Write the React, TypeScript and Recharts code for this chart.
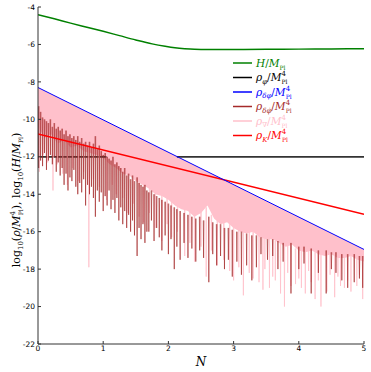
import { ComposedChart, Line, Area, XAxis, YAxis } from "recharts";

// ticks
const xTicks = [0, 1, 2, 3, 4, 5];
const yTicks = [-22, -20, -18, -16, -14, -12, -10, -8, -6, -4];

// H / M_Pl  (green)
const hubble: [number, number][] = [
  [0, -4.41], [0.25, -4.63], [0.5, -4.86], [0.75, -5.08], [1.0, -5.3], [1.25, -5.53],
  [1.5, -5.76], [1.75, -5.97], [1.95, -6.1], [2.1, -6.18], [2.25, -6.23], [2.4, -6.26],
  [2.6, -6.27], [3.0, -6.27], [3.5, -6.26], [4.0, -6.25], [4.5, -6.24], [5.0, -6.23],
];

// rho_phi (black) - only the parts not hidden under the pink band
const rhoPhi: [number, number | null][] = [[0, -12], [1.05, -12], [1.06, null], [2.12, null], [2.13, -12], [5, -12]];
// rho_dphi (blue), rho_K (red)
const rhoDeltaPhi: [number, number][] = [[0, -8.3], [5, -16.95]];
const rhoKin: [number, number][] = [[0, -10.78], [5, -15.07]];

// rho_grad: dense pink band (upper / lower edge)
const gradN = [
  0, 0.1, 0.2, 0.3, 0.4, 0.5, 0.6, 0.7, 0.8, 0.9, 1.0, 1.1, 1.2, 1.3, 1.4, 1.5, 1.6,
  1.7, 1.8, 1.9, 2.0, 2.1, 2.2, 2.3, 2.4, 2.5, 2.6, 2.7, 2.8, 2.9, 3.0, 3.1, 3.2, 3.3,
  3.4, 3.5, 3.6, 3.7, 3.8, 3.9, 4.0, 4.1, 4.2, 4.3, 4.4, 4.5, 4.6, 4.7, 4.8, 4.9, 5.0,
];
const gradHi = [
  -8.3, -8.47, -8.65, -8.82, -8.99, -9.17, -9.34, -9.51, -9.68, -9.86, -10.03, -10.2,
  -10.38, -10.55, -10.72, -10.9, -11.07, -11.24, -11.41, -11.59, -11.76, -11.93, -12.11,
  -12.28, -12.45, -12.63, -12.8, -12.97, -13.14, -13.32, -13.49, -13.66, -13.84, -14.01,
  -14.18, -14.36, -14.53, -14.7, -14.87, -15.05, -15.22, -15.39, -15.57, -15.74, -15.91,
  -16.09, -16.26, -16.43, -16.6, -16.78, -16.95,
];
const gradLo = [
  -10.4, -11.0, -10.8, -11.3, -11.1, -11.5, -11.4, -11.7, -11.8, -11.9, -12.05, -12.4,
  -12.6, -12.9, -13.0, -13.3, -13.5, -13.7, -14.0, -14.1, -14.3, -14.6, -14.8, -14.9,
  -15.2, -15.0, -14.6, -15.3, -15.6, -15.5, -15.8, -16.0, -16.1, -16.0, -16.3, -16.4,
  -16.4, -16.6, -16.8, -16.7, -17.0, -17.1, -17.0, -17.2, -17.3, -17.2, -17.4, -17.4,
  -17.3, -17.5, -17.6,
];

// rho_grad: pale spikes below the band  [N, top, bottom]
const gradSpikes: [number, number, number][] = [
  [0.02, -10.3, -12.8], [0.08, -10.6, -11.9], [0.15, -10.7, -12.3], [0.23, -10.8, -13.8],
  [0.3, -11.0, -12.4], [0.38, -11.0, -12.9], [0.45, -11.1, -13.5], [0.53, -11.3, -12.6],
  [0.62, -11.3, -13.3], [0.7, -11.5, -12.8], [0.78, -11.6, -17.9], [0.85, -11.7, -13.2],
  [0.94, -11.8, -13.6], [1.05, -12.1, -14.3], [1.14, -12.3, -13.5], [1.2, -12.4, -14.0],
  [1.3, -12.7, -14.2], [1.38, -12.9, -15.0], [1.46, -13.1, -14.5], [1.55, -13.3, -15.2],
  [1.62, -13.4, -15.5], [1.71, -13.6, -15.0], [1.8, -13.9, -15.8], [1.9, -14.0, -16.5],
  [1.98, -14.2, -15.6], [2.05, -14.4, -16.3], [2.14, -14.6, -16.0], [2.25, -14.8, -17.3],
  [2.33, -14.8, -16.6], [2.4, -15.0, -17.6], [2.5, -14.9, -16.8], [2.58, -14.7, -18.4],
  [2.66, -15.1, -17.0], [2.75, -15.4, -17.8], [2.85, -15.4, -17.5], [2.94, -15.6, -18.1],
  [3.0, -15.7, -18.6], [3.08, -15.9, -17.9], [3.15, -16.0, -19.4], [3.24, -16.0, -18.2],
  [3.3, -16.0, -18.5], [3.39, -16.2, -18.7], [3.45, -16.3, -19.1], [3.48, -16.3, -18.0],
  [3.55, -16.3, -19.0], [3.6, -16.4, -18.4], [3.64, -16.5, -18.6], [3.72, -16.6, -19.3],
  [3.78, -16.7, -20.0], [3.83, -16.7, -18.2], [3.88, -16.7, -18.9], [3.95, -16.9, -18.8],
  [4.0, -16.9, -18.5], [4.04, -17.0, -19.0], [4.1, -17.0, -19.3], [4.15, -17.0, -18.1],
  [4.19, -17.0, -18.7], [4.25, -17.1, -19.6], [4.3, -17.1, -18.6], [4.34, -17.2, -20.0],
  [4.43, -17.2, -19.2], [4.48, -17.2, -18.3], [4.55, -17.2, -19.5], [4.6, -17.3, -18.4],
  [4.64, -17.3, -18.9], [4.7, -17.3, -19.0], [4.75, -17.3, -18.6], [4.8, -17.3, -19.2],
  [4.89, -17.4, -18.9], [4.93, -17.4, -18.3], [4.98, -17.5, -19.6],
];

// rho_dphidot (brown spikes)  [N, top, bottom]
const dotSpikes: [number, number, number][] = [
  [0.01, -9.3, -12.6], [0.04, -9.6, -12.2], [0.07, -9.9, -12.5], [0.1, -10.0, -11.8],
  [0.13, -10.1, -12.7], [0.16, -10.2, -12.2], [0.19, -10.0, -11.9], [0.22, -10.4, -12.4],
  [0.25, -10.2, -12.0], [0.28, -10.5, -12.8], [0.31, -10.4, -12.3], [0.34, -10.6, -13.0],
  [0.37, -10.5, -12.6], [0.4, -10.8, -13.5], [0.43, -10.6, -12.9], [0.46, -10.9, -13.8],
  [0.49, -10.8, -13.1], [0.52, -11.0, -13.3], [0.55, -10.9, -12.7], [0.58, -11.1, -13.6],
  [0.61, -10.9, -14.0], [0.64, -11.2, -13.4], [0.67, -11.0, -13.9], [0.7, -11.3, -13.2],
  [0.73, -11.2, -14.6], [0.76, -11.4, -13.5], [0.79, -11.2, -14.0], [0.82, -11.5, -13.6],
  [0.85, -11.3, -14.2], [0.88, -10.9, -15.2], [0.91, -11.6, -13.8], [0.94, -11.4, -14.4],
  [0.97, -11.7, -13.9], [1.0, -11.9, -14.9], [1.03, -11.8, -14.1], [1.06, -12.0, -14.6],
  [1.09, -12.1, -13.8], [1.12, -12.2, -14.8], [1.15, -12.0, -14.3], [1.18, -12.4, -15.0],
  [1.21, -12.3, -14.2], [1.24, -12.5, -15.4], [1.27, -12.6, -14.7], [1.3, -12.8, -15.6],
  [1.33, -12.6, -14.9], [1.36, -13.0, -15.8], [1.39, -12.9, -15.1], [1.42, -13.2, -16.0],
  [1.45, -13.0, -15.4], [1.48, -13.3, -16.2], [1.52, -13.1, -17.3], [1.55, -13.4, -15.8],
  [1.58, -13.5, -16.4], [1.61, -13.6, -15.6], [1.64, -13.5, -16.6], [1.67, -13.8, -16.0],
  [1.7, -13.9, -16.0], [1.74, -13.8, -15.4], [1.78, -14.0, -16.5], [1.82, -14.1, -15.8],
  [1.86, -14.2, -16.3], [1.9, -14.3, -17.0], [1.95, -14.4, -16.2], [2.0, -14.5, -17.2],
  [2.04, -14.6, -16.4], [2.09, -14.7, -18.0], [2.13, -14.8, -16.8], [2.18, -14.9, -17.5],
  [2.24, -15.0, -16.6], [2.3, -15.1, -17.4], [2.36, -15.2, -16.9], [2.42, -15.3, -17.6],
  [2.48, -15.2, -17.0], [2.54, -15.4, -17.4], [2.62, -15.2, -18.7], [2.68, -15.5, -17.2],
  [2.74, -15.6, -17.8], [2.8, -15.6, -17.3], [2.86, -15.8, -18.0], [2.92, -15.8, -17.5],
  [2.98, -15.9, -18.4], [3.05, -16.0, -17.6], [3.12, -16.0, -18.3], [3.2, -16.1, -17.8],
  [3.28, -16.2, -18.6], [3.35, -16.2, -17.9], [3.42, -16.3, -17.2], [3.52, -16.4, -17.5],
  [3.6, -16.4, -17.3], [3.68, -16.5, -18.0], [3.76, -16.6, -17.6], [3.88, -16.6, -19.3],
  [4.0, -16.8, -18.0], [4.08, -16.8, -17.7], [4.19, -16.9, -19.3], [4.3, -17.0, -18.2],
  [4.42, -17.0, -19.3], [4.5, -17.1, -18.0], [4.57, -17.1, -18.2], [4.66, -17.2, -18.6],
  [4.75, -17.2, -19.0], [4.85, -17.2, -18.7], [4.93, -17.3, -18.5], [4.98, -17.3, -19.0],
];

// legend
const legendSubs = ["", "φ", "δφ", "δφ̇", "∇", "K"];
const legendColors = ["#008000", "#000000", "#0000ff", "#a52a2a", "#ffc0cb", "#ff0000"];

const toPts = (arr: [number, number | null][]) => arr.map(([n, v]) => ({ n, v }));
// each spike is a thin "V", broken from the next one by a null
const spikePts = (arr: [number, number, number][], w: number) =>
  arr.flatMap(([n, top, bot]) => [
    { n: n - w, v: top },
    { n, v: bot },
    { n: n + w, v: top },
    { n: n + w + 0.001, v: null },
  ]);
const bandData = gradN.map((n, i) => ({ n, range: [gradLo[i], gradHi[i]] }));

const tickFont = { fontSize: 7.5, fill: "#000", fontFamily: "DejaVu Sans" };
const serif = "'DejaVu Serif', serif";

function LegendRow({ i, y }: { i: number; y: number }) {
  const c = legendColors[i];
  const sub = legendSubs[i];
  return (
    <g>
      <line x1={233} x2={252} y1={y} y2={y} stroke={c} strokeWidth={1.5} />
      {sub === "" ? (
        <text x={256} y={y + 3.5} fontFamily={serif} fontSize={10.5} fill={c}>
          <tspan fontStyle="italic">H</tspan>
          <tspan>/</tspan>
          <tspan fontStyle="italic">M</tspan>
          <tspan fontSize={6} dy={3}>Pl</tspan>
        </text>
      ) : (
        <text x={256} y={y + 3.5} fontFamily={serif} fontSize={10.5} fill={c}>
          <tspan fontStyle="italic">ρ</tspan>
          <tspan fontSize={7} dy={2.5} fontStyle="italic">{sub}</tspan>
          <tspan dy={-2.5}>/</tspan>
          <tspan fontStyle="italic">M</tspan>
          <tspan fontSize={7} dy={-5}>4</tspan>
          <tspan fontSize={6} dx={-4.3} dy={8}>Pl</tspan>
        </text>
      )}
    </g>
  );
}

export default function App() {
  const rows = [63, 77.5, 92, 106.5, 121, 135.5];
  return (
    <div style={{ position: "absolute", left: 0, top: 0, width: 371, height: 372, background: "#fff" }}>
      <ComposedChart width={371} height={372} margin={{ top: 7, right: 7, bottom: 0, left: 0 }}>
        <XAxis
          dataKey="n"
          type="number"
          domain={[0, 5]}
          ticks={xTicks}
          interval={0}
          allowDataOverflow
          height={28}
          tickSize={-3}
          tickMargin={5}
          axisLine={{ stroke: "#333" }}
          tickLine={{ stroke: "#333" }}
          tick={tickFont}
        />
        <XAxis
          xAxisId="t"
          orientation="top"
          type="number"
          domain={[0, 5]}
          ticks={xTicks}
          interval={0}
          allowDataOverflow
          height={0}
          tickSize={-3}
          tick={false}
          axisLine={{ stroke: "#333" }}
          tickLine={{ stroke: "#333" }}
        />
        <YAxis
          type="number"
          domain={[-22, -4]}
          ticks={yTicks}
          interval={0}
          allowDataOverflow
          width={38}
          tickSize={-3}
          tickMargin={6}
          axisLine={{ stroke: "#333" }}
          tickLine={{ stroke: "#333" }}
          tick={tickFont}
        />
        <YAxis
          yAxisId="r"
          orientation="right"
          type="number"
          domain={[-22, -4]}
          ticks={yTicks}
          interval={0}
          allowDataOverflow
          width={0}
          tickSize={-3}
          tick={false}
          axisLine={{ stroke: "#333" }}
          tickLine={{ stroke: "#333" }}
        />
        <Area data={bandData} dataKey="range" type="linear" stroke="none" fill="#ffc0cb" fillOpacity={1} dot={false} activeDot={false} isAnimationActive={false} />
        <Line data={toPts(hubble)} dataKey="v" type="monotone" stroke="#008000" strokeWidth={1.5} dot={false} activeDot={false} isAnimationActive={false} />
        <Line data={toPts(rhoPhi)} dataKey="v" type="linear" stroke="#333" strokeWidth={1.8} dot={false} activeDot={false} isAnimationActive={false} />
        <Line data={spikePts(gradSpikes, 0.004)} dataKey="v" type="linear" stroke="#ffc0cb" strokeOpacity={0.8} strokeWidth={1} dot={false} activeDot={false} isAnimationActive={false} />
        <Line data={spikePts(dotSpikes, 0.005)} dataKey="v" type="linear" stroke="#a52a2a" strokeOpacity={0.65} strokeWidth={1} dot={false} activeDot={false} isAnimationActive={false} />
        <Line data={toPts(rhoKin)} dataKey="v" type="linear" stroke="#ff0000" strokeWidth={1.5} dot={false} activeDot={false} isAnimationActive={false} />
        <Line data={toPts(rhoDeltaPhi)} dataKey="v" type="linear" stroke="#0000ff" strokeWidth={1} dot={false} activeDot={false} isAnimationActive={false} />
      </ComposedChart>
      <svg width={371} height={372} style={{ position: "absolute", left: 0, top: 0, pointerEvents: "none" }}>
        {rows.map((y, i) => (
          <LegendRow key={i} i={i} y={y} />
        ))}
        <text x={201} y={366} textAnchor="middle" fontFamily={serif} fontSize={12} fontStyle="italic">
          N
        </text>
        <text transform="translate(20,200) rotate(-90)" textAnchor="middle" fontFamily={serif} fontSize={11}>
          <tspan>log</tspan>
          <tspan fontSize={7} dy={3}>10</tspan>
          <tspan dy={-3}>(</tspan>
          <tspan fontStyle="italic">ρ</tspan>
          <tspan>/</tspan>
          <tspan fontStyle="italic">M</tspan>
          <tspan fontSize={7} dy={-5}>4</tspan>
          <tspan fontSize={6} dx={-4.3} dy={8}>Pl</tspan>
          <tspan dy={-3}>),  log</tspan>
          <tspan fontSize={7} dy={3}>10</tspan>
          <tspan dy={-3}>(</tspan>
          <tspan fontStyle="italic">H</tspan>
          <tspan>/</tspan>
          <tspan fontStyle="italic">M</tspan>
          <tspan fontSize={6} dy={3}>Pl</tspan>
          <tspan dy={-3}>)</tspan>
        </text>
      </svg>
    </div>
  );
}
